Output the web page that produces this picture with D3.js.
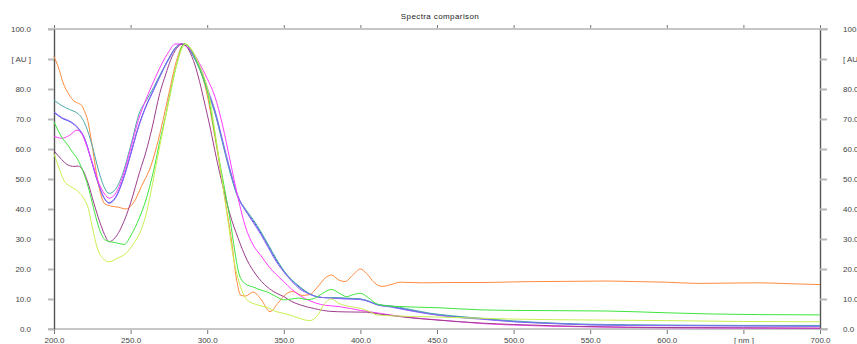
<!DOCTYPE html>
<html>
<head>
<meta charset="utf-8">
<script src="https://cdn.jsdelivr.net/npm/d3@7"></script>
<style>
body { margin: 0; background: #fff; }
svg { display: block; font-family: "Liberation Sans", Arial, sans-serif; }
</style>
</head>
<body>
<div id="chart"></div>
<script>
// wavelength [nm], absorbance [AU]
let orange = [[200,90.8],[203,87],[206,82],[210,78],[213,76],[216,75.2],[218,74.6],[220,72.5],[222,69.5],[224,64],[226,57.5],[228,51],[230,46],[233,41.8],[237,41],[242,40.6],[247,40],[251,41.5],[254,44],[257,47.5],[260,50.5],[263,54],[266,59],[270,67],[275,78.5],[280,89.5],[285,95],[289,93.5],[293,89.5],[297,84],[300,78],[304,67],[308,55],[312,42],[316,29],[319,17],[322,11.2],[325,11],[330,12.3],[335,10],[341,5.8],[346,8.5],[351,11.5],[356,12.5],[362,11.2],[367,11.5],[372,14],[377,17],[381,18],[386,16.3],[390,15.8],[395,18],[400,20],[404,18.5],[409,15.5],[414,14.2],[420,14.8],[426,15.6],[440,15.4],[460,15.5],[480,15.5],[500,15.7],[513,15.8],[540,15.9],[560,16],[580,15.8],[600,15.6],[620,15.2],[640,15.3],[660,15.4],[680,15.1],[700,14.8]];
let teal = [[200,76.3],[205,74.5],[210,73.2],[215,72],[218,70.5],[221,67.4],[225,61],[229,53],[233,47],[236,45.2],[240,46.5],[245,52],[250,61],[256,72.4],[260,76],[265,80.5],[270,85.5],[275,90],[280,94.2],[283,95],[287,94],[292,90],[297,84],[301,78],[305,72],[310,62],[315,52],[320,44],[325,40],[330,36.5],[335,32.5],[340,28],[345,23.5],[350,19.5],[355,16.5],[360,14.3],[365,12.3],[370,11],[375,10.5],[381,10.5],[390,10.3],[400,10],[405,9.4],[411,8.2],[420,7.7],[430,6.8],[445,5.3],[460,4.4],[478,3.6],[500,2.7],[525,2],[550,1.6],[600,1.3],[650,1.2],[700,1.2]];
let violet = [[200,72.4],[205,70.5],[211,69.1],[216,66.9],[220,63.6],[224,57],[228,50],[232,44.5],[236,41.9],[240,43.5],[245,49.5],[250,58],[255,67],[260,74],[265,79.5],[270,85],[275,90],[280,94],[283,95],[287,94],[292,90.5],[297,85],[301,79],[305,73],[310,63],[315,53],[320,44.5],[325,39.5],[330,35.5],[335,31.5],[340,27],[345,22.5],[350,19],[355,16],[360,13.5],[365,12],[370,11],[375,10.5],[381,10.3],[390,10],[400,9.8],[405,9.2],[411,8],[420,7.3],[430,6.3],[445,5],[460,4],[478,3.3],[500,2.4],[525,1.8],[550,1.4],[600,1.1],[650,1],[700,0.9]];
let blue = [[200,72.2],[205,70.3],[211,68.9],[216,66.7],[220,63.4],[224,56.8],[228,49.8],[232,44.3],[236,42.1],[240,43.8],[245,49.8],[250,58.3],[255,67.3],[260,74.3],[265,79.8],[270,85.3],[275,90.3],[280,94.2],[283,95],[287,94],[292,90],[297,84.5],[301,78.5],[305,72.5],[310,62.5],[315,52.5],[320,44],[325,39.5],[330,36],[335,32],[340,27.5],[345,23],[350,19.3],[355,16.3],[360,14],[365,12.2],[370,11],[375,10.5],[381,10.4],[390,10.2],[400,10],[405,9.3],[411,8.1],[420,7.5],[430,6.5],[445,5.1],[460,4.2],[478,3.5],[500,2.5],[525,1.9],[550,1.4],[600,1.2],[650,1.1],[700,1.0]];
let magenta = [[200,64.3],[205,63.6],[210,64.5],[215,66.3],[218,65.2],[221,61.5],[225,55.5],[229,49],[233,45],[236,43.6],[240,45],[245,51],[250,60],[255,69.5],[260,76.5],[265,82.5],[270,88],[275,92.5],[279,95],[283,95],[287,94],[291,92],[295,88.5],[300,83.5],[305,77.5],[310,68],[315,56],[320,44],[325,34],[330,28],[335,24.5],[340,21],[345,18.2],[350,15.8],[355,13.3],[361,11],[367,9.4],[374,8.2],[387,7.4],[400,6.2],[413,5.2],[425,4.3],[440,3.5],[460,2.6],[480,1.8],[500,1.3],[550,0.7],[600,0.4],[650,0.3],[700,0.2]];
let mauve = [[200,59.4],[205,56.5],[209,54.7],[213,54.2],[216,54.3],[219,52.8],[222,49],[226,42],[230,35.5],[233,31.5],[236,29.1],[240,30.5],[246,36.3],[250,42],[256,52.5],[260,59],[264,67],[269,78.5],[273,85],[276,89.5],[280,93.5],[284,95],[288,93],[292,88],[295,82.5],[298,76],[302,67],[306,57],[310,48],[315,38],[320,30.5],[326,23],[332,18],[339,14.1],[345,12],[350,10.8],[355,9.2],[361,8],[370,6.8],[380,5.9],[390,5.7],[404,5.6],[412,5],[420,4.5],[435,3.6],[450,3],[478,2],[500,1.5],[550,0.8],[600,0.5],[650,0.4],[700,0.3]];
let green = [[200,69],[205,64],[209,61.3],[212,59],[215,56.9],[219,52.5],[222,48],[225,42],[228,36],[231,31.5],[234,29.5],[240,28.8],[246,28.2],[250,31],[256,37.4],[260,43],[263,48.6],[266,55],[269,62.5],[272,69],[276,79],[280,88],[285,95],[289,93.5],[293,89.5],[297,84],[300,79.5],[304,68],[308,56],[312,45],[315,36.3],[318,26],[321,18],[325,15],[330,14],[335,13],[339,12.4],[345,10.8],[350,9.7],[355,10],[360,10.3],[365,9.8],[370,10.2],[375,11.8],[381,13.2],[386,12],[391,10.8],[395,11.4],[400,11.9],[405,10.5],[411,8.3],[420,7.6],[450,7.1],[478,6.4],[500,6.2],[530,6.1],[560,6],[600,5.4],[630,5],[660,4.8],[700,4.7]];
let yellowGreen = [[200,58.4],[203,54],[206,50],[211,47.4],[214,46.5],[217,45.2],[220,43],[222,40.8],[225,34],[228,27.4],[232,23.5],[236,22.4],[241,23.5],[247,25.2],[252,28.5],[256,32],[260,38],[263,45],[266,53],[270,63.5],[275,76],[280,88],[286,95],[290,93],[294,89],[298,84],[301,78.5],[305,66],[309,52],[313,38],[317,24],[321,15.3],[326,9.7],[333,8],[339,7.2],[345,5.8],[350,5.2],[355,4.5],[360,3.6],[367,2.8],[372,4.5],[376,8],[381,10],[386,8.5],[391,7.7],[395,7.3],[400,6.9],[405,6],[411,4.7],[420,4.4],[450,4],[478,3.6],[500,3.3],[550,3],[600,2.8],[650,2.5],[700,2.4]];

let spectra = [blue, orange, teal, violet, magenta, mauve, green, yellowGreen];
let colors = ["#4650dc", "#ff8a3d", "#4aa9a9", "#8a66ff", "#ff3cff", "#9e3d8c", "#3fe63f", "#c8f050"];

let xTicks = [200, 250, 300, 350, 400, 450, 500, 550, 600, 650, 700];
let yTicks = [0, 10, 20, 30, 40, 50, 60, 70, 80, 90, 100];
let title = "Spectra comparison";

function go(){
    let width = 857,
        height = 344;

    let svg = d3.select("#chart")
        .append("svg")
        .attr("width", width)
        .attr("height", height);

    let x = d3.scaleLinear().domain([200, 700]).range([54, 820]);
    let y = d3.scaleLinear().domain([0, 100]).range([329, 29]);

    svg.append("text")
        .attr("x", 440)
        .attr("y", 18.5)
        .attr("text-anchor", "middle")
        .attr("font-size", 8)
        .attr("letter-spacing", 0.4)
        .attr("fill", "#222")
        .text(title);

    // grey frame lines top and bottom
    [100, 0].forEach(function(v){
        svg.append("line")
            .attr("x1", x(200) - 6).attr("x2", x(700) + 8)
            .attr("y1", y(v)).attr("y2", y(v))
            .attr("stroke", "#c6c6c6")
            .attr("stroke-width", 2);
    });

    let yLabel = function(d){ return d === 90 ? "[ AU ]" : d.toFixed(1); };
    let xLabel = function(d){ return d === 650 ? "[ nm ]" : d.toFixed(1); };

    let top = svg.append("g")
        .attr("transform", "translate(0," + (y(100) - 1) + ")")
        .call(d3.axisTop(x).tickValues(xTicks).tickSize(3).tickSizeOuter(0).tickFormat(""));
    top.select(".domain").remove();
    top.selectAll(".tick line").attr("stroke", "#777");

    let bottom = svg.append("g")
        .attr("transform", "translate(0," + (y(0) + 1) + ")")
        .call(d3.axisBottom(x).tickValues(xTicks).tickSize(4).tickPadding(3).tickSizeOuter(0).tickFormat(xLabel));
    bottom.select(".domain").remove();
    bottom.selectAll(".tick line").attr("stroke", "#777");

    let left = svg.append("g")
        .attr("transform", "translate(" + x(200) + ",0)")
        .call(d3.axisLeft(y).tickValues(yTicks).tickSize(6).tickPadding(17).tickSizeOuter(0).tickFormat(yLabel));

    // the right-hand labels run off the page edge, as in the original
    let right = svg.append("g")
        .attr("transform", "translate(" + x(700) + ",0)")
        .call(d3.axisRight(y).tickValues(yTicks).tickSize(7).tickPadding(16).tickSizeOuter(0).tickFormat(yLabel));

    [left, right].forEach(function(g){
        g.select(".domain").attr("stroke", "#555").attr("stroke-width", 1.4);
        g.selectAll(".tick line").attr("stroke", "#b8b8b8").attr("stroke-width", 2);
    });

    svg.selectAll(".tick text")
        .attr("font-size", 8)
        .attr("font-family", "Liberation Sans, Arial, sans-serif")
        .attr("fill", "#444");

    let line = d3.line()
        .x(function(d){ return x(d[0]); })
        .y(function(d){ return y(d[1]); })
        .curve(d3.curveMonotoneX);

    svg.append("g")
        .selectAll("path")
        .data(spectra)
        .enter().append("path")
        .attr("d", line)
        .attr("fill", "none")
        .attr("stroke", function(d, i){ return colors[i]; })
        .attr("stroke-width", 1);
}
go()
</script>
</body>
</html>
